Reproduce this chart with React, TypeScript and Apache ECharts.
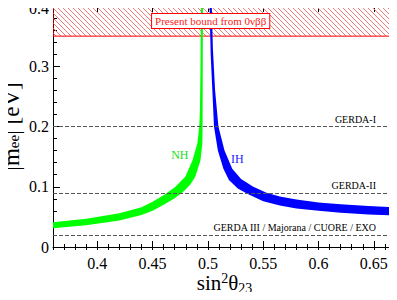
import React, { useEffect, useRef } from "react";
import * as echarts from "echarts";

const FONT = "'Liberation Serif', 'Times New Roman', serif";

const xMin = 0.36;
const xMax = 0.67;
const yMin = 0;
const yMax = 0.4;
const yInterval = 0.1;
const xMajorTicks = [0.4, 0.45, 0.5, 0.55, 0.6, 0.65];
const xMinorTicks = [
  0.36, 0.37, 0.38, 0.39, 0.4, 0.41, 0.42, 0.43, 0.44, 0.45, 0.46, 0.47, 0.48, 0.49, 0.5, 0.51,
  0.52, 0.53, 0.54, 0.55, 0.56, 0.57, 0.58, 0.59, 0.6, 0.61, 0.62, 0.63, 0.64, 0.65, 0.66, 0.67,
];

// Normal hierarchy band: upper-left edge and lower-right edge
const nhUpper: number[][] = [
  [0.36, 0.041], [0.39, 0.047], [0.42, 0.056], [0.44, 0.066], [0.45, 0.075], [0.46, 0.086],
  [0.4707, 0.1], [0.4797, 0.117], [0.4861, 0.144], [0.4905, 0.172], [0.4922, 0.2],
  [0.4928, 0.227], [0.4933, 0.3], [0.4937, 0.4],
];
const nhLower: number[][] = [
  [0.36, 0.031], [0.39, 0.036], [0.42, 0.044], [0.44, 0.053], [0.45, 0.06], [0.46, 0.07],
  [0.47, 0.081], [0.478, 0.092], [0.4843, 0.104], [0.4887, 0.117], [0.4933, 0.144],
  [0.495, 0.172], [0.4952, 0.2], [0.4955, 0.4],
];

// Inverted hierarchy band: outer (upper-right) edge and inner (lower-left) edge
const ihOuter: number[][] = [
  [0.5035, 0.4], [0.5045, 0.33], [0.5065, 0.26], [0.5095, 0.2], [0.515, 0.16], [0.522, 0.13],
  [0.53, 0.113], [0.541, 0.1], [0.553, 0.09], [0.565, 0.084], [0.58, 0.079], [0.6, 0.074],
  [0.62, 0.071], [0.645, 0.068], [0.67, 0.066],
];
const ihInner: number[][] = [
  [0.5015, 0.4], [0.5025, 0.32], [0.504, 0.26], [0.5055, 0.2], [0.509, 0.16], [0.514, 0.13],
  [0.519, 0.111], [0.527, 0.097], [0.536, 0.088], [0.55, 0.076], [0.565, 0.069], [0.58, 0.064],
  [0.6, 0.06], [0.62, 0.057], [0.645, 0.054], [0.67, 0.052],
];

const boundRange = [0.35, 0.4];
const boundLabel = "Present bound from 0νββ";
const boundLabelAt = [0.5025, 0.375];

const gerdaLevels = [0.2, 0.09, 0.02];
const gerdaNames = ["GERDA-I", "GERDA-II", "GERDA III / Majorana / CUORE / EXO"];

const nhLabelAt = [0.4746, 0.153];
const ihLabelAt = [0.5265, 0.146];

function makeHatch(): HTMLCanvasElement {
  const c = document.createElement("canvas");
  c.width = 5;
  c.height = 5;
  const ctx = c.getContext("2d")!;
  ctx.strokeStyle = "#f26a6a";
  ctx.lineWidth = 0.9;
  ctx.beginPath();
  ctx.moveTo(0, 0);
  ctx.lineTo(5, 5);
  ctx.moveTo(-1, 4);
  ctx.lineTo(1, 6);
  ctx.moveTo(4, -1);
  ctx.lineTo(6, 1);
  ctx.stroke();
  return c;
}

function bandItem(edgeA: number[][], edgeB: number[][], color: string) {
  return (_params: any, api: any) => {
    const pts = [
      ...edgeA.map((p) => api.coord(p)),
      ...edgeB.slice().reverse().map((p) => api.coord(p)),
    ];
    return { type: "polygon", shape: { points: pts }, style: { fill: color } };
  };
}

export default function App() {
  const ref = useRef<HTMLDivElement>(null);

  useEffect(() => {
    if (!ref.current) return;
    const chart = echarts.init(ref.current, null, { renderer: "svg" });
    const hatch = makeHatch();

    const baseX = {
      type: "value",
      min: xMin,
      max: xMax,
      splitLine: { show: false },
    };
    const baseY = {
      type: "value",
      min: yMin,
      max: yMax,
      interval: yInterval,
      splitLine: { show: false },
    };

    const option: any = {
      animation: false,
      grid: { left: 53, right: 1, top: 6, bottom: 53, containLabel: false, outerBoundsMode: "none" },
      xAxis: [
        {
          ...baseX,
          position: "bottom",
          axisLine: { show: true, onZero: false, lineStyle: { color: "#000", width: 1 } },
          axisTick: { show: true, inside: true, length: 6, customValues: xMajorTicks, lineStyle: { color: "#000" } },
          axisLabel: {
            show: true,
            customValues: xMajorTicks,
            margin: 10,
            lineHeight: 13,
            fontFamily: FONT,
            fontSize: 16,
            color: "#000",
            formatter: (v: number) => String(+v.toFixed(3)),
          },
          name: "{a|sin}{b|2}{a|θ}{c|23}",
          nameLocation: "middle",
          nameGap: 24,
          nameMoveOverlap: false,
          nameTextStyle: {
            fontFamily: FONT,
            rich: {
              a: { fontFamily: FONT, fontSize: 21, color: "#000", lineHeight: 24 },
              b: { fontFamily: FONT, fontSize: 14, color: "#000", lineHeight: 6, verticalAlign: "top" },
              c: { fontFamily: FONT, fontSize: 14, color: "#000", lineHeight: 8, verticalAlign: "bottom" },
            },
          },
        },
        {
          ...baseX,
          position: "bottom",
          axisLine: { show: false },
          axisTick: { show: true, inside: true, length: 3, customValues: xMinorTicks, lineStyle: { color: "#000" } },
          axisLabel: { show: false },
        },
        {
          ...baseX,
          position: "top",
          axisLine: { show: true, onZero: false, lineStyle: { color: "#000", width: 1 } },
          axisTick: { show: true, inside: true, length: 6, customValues: xMajorTicks, lineStyle: { color: "#000" } },
          axisLabel: { show: false },
        },
        {
          ...baseX,
          position: "top",
          axisLine: { show: false },
          axisTick: { show: true, inside: true, length: 3, customValues: xMinorTicks, lineStyle: { color: "#000" } },
          axisLabel: { show: false },
        },
      ],
      yAxis: [
        {
          ...baseY,
          position: "left",
          axisLine: { show: true, onZero: false, lineStyle: { color: "#000", width: 1 } },
          axisTick: { show: true, inside: true, length: 7, lineStyle: { color: "#000" } },
          minorTick: { show: true, splitNumber: 5, length: 4, lineStyle: { color: "#000" } },
          axisLabel: {
            show: true,
            margin: 4,
            lineHeight: 12,
            fontFamily: FONT,
            fontSize: 16,
            color: "#000",
            formatter: (v: number) => {
              const s = String(+v.toFixed(3));
              return v >= yMax - 1e-9 ? `{t|${s}}` : s;
            },
            rich: {
              t: { fontFamily: FONT, fontSize: 16, color: "#000", lineHeight: 12, padding: [4, 0, 0, 0] },
            },
          },
          name: "{a||m}{e|ee}{a|| [eV]}",
          nameLocation: "middle",
          nameGap: 32,
          nameRotate: 90,
          nameMoveOverlap: false,
          nameTextStyle: {
            fontFamily: FONT,
            rich: {
              a: { fontFamily: FONT, fontSize: 23, color: "#000", lineHeight: 20 },
              e: { fontFamily: FONT, fontSize: 15, color: "#000", lineHeight: 12, verticalAlign: "bottom" },
            },
          },
        },
        {
          ...baseY,
          position: "right",
          axisLine: { show: true, onZero: false, lineStyle: { color: "#000", width: 1 } },
          axisTick: { show: true, inside: true, length: 7, lineStyle: { color: "#000" } },
          minorTick: { show: true, splitNumber: 5, length: 4, lineStyle: { color: "#000" } },
          axisLabel: { show: false },
        },
      ],
      series: [
        {
          type: "custom",
          name: "bound",
          z: 1,
          clip: true,
          data: [[xMin, boundRange[0]]],
          renderItem: (_p: any, api: any) => {
            const a = api.coord([xMin, boundRange[1]]);
            const b = api.coord([xMax, boundRange[0]]);
            return {
              type: "rect",
              shape: { x: a[0], y: a[1], width: b[0] - a[0], height: b[1] - a[1] },
              style: {
                fill: { image: hatch, repeat: "repeat" },
                stroke: "#ff0000",
                lineWidth: 1,
              },
            };
          },
        },
        {
          type: "custom",
          name: "NH",
          z: 2,
          clip: true,
          data: [[0.45, 0.07]],
          renderItem: bandItem(nhUpper, nhLower, "#00ff00"),
        },
        {
          type: "custom",
          name: "IH",
          z: 2,
          clip: true,
          data: [[0.55, 0.08]],
          renderItem: bandItem(ihOuter, ihInner, "#0000ff"),
        },
        {
          type: "line",
          name: "annotations",
          z: 5,
          data: [],
          markLine: {
            silent: true,
            symbol: "none",
            lineStyle: { type: [4, 2], color: "#555", width: 1 },
            label: {
              show: true,
              position: "insideEndTop",
              distance: [20, 2],
              formatter: "{b}",
              fontFamily: FONT,
              fontSize: 10,
              color: "#000",
            },
            data: gerdaLevels.map((y, i) => ({ yAxis: y, name: gerdaNames[i] })),
          },
          markPoint: {
            silent: true,
            symbol: "rect",
            symbolSize: 0,
            data: [
              {
                coord: boundLabelAt,
                label: {
                  show: true,
                  position: "inside",
                  formatter: boundLabel,
                  fontFamily: FONT,
                  fontSize: 11,
                  color: "#ff2020",
                  backgroundColor: "#fff",
                  borderColor: "#ff0000",
                  borderWidth: 1,
                  padding: [2, 3, 1, 3],
                },
              },
              {
                coord: nhLabelAt,
                label: {
                  show: true,
                  position: "inside",
                  formatter: "NH",
                  fontFamily: FONT,
                  fontSize: 12,
                  color: "#22dd22",
                },
              },
              {
                coord: ihLabelAt,
                label: {
                  show: true,
                  position: "inside",
                  formatter: "IH",
                  fontFamily: FONT,
                  fontSize: 12,
                  color: "#2222ff",
                },
              },
            ],
          },
        },
      ],
    };

    chart.setOption(option);
    return () => chart.dispose();
  }, []);

  return <div ref={ref} style={{ width: 397, height: 300, margin: -8 }} />;
}
